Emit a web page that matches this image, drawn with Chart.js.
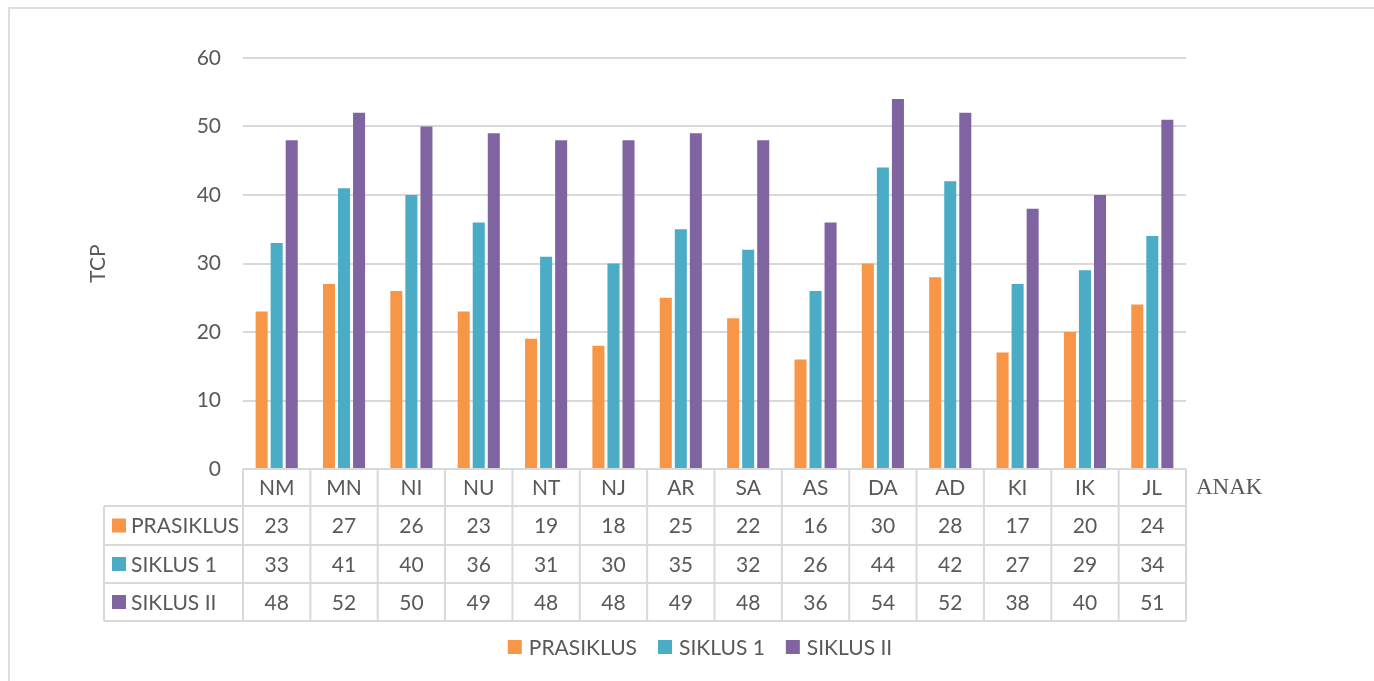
<!DOCTYPE html>
<html>
<head>
<meta charset="utf-8">
<script src="https://cdn.jsdelivr.net/npm/chart.js@4/dist/chart.umd.min.js"></script>
<style>
  html, body { margin: 0; padding: 0; background: #fff; }
  #wrap { width: 1374px; height: 681px; position: relative; }
</style>
</head>
<body>
<div id="wrap"><canvas id="myChart" width="1374" height="681"></canvas></div>
<script>
// data
const categories = ['NM', 'MN', 'NI', 'NU', 'NT', 'NJ', 'AR', 'SA', 'AS', 'DA', 'AD', 'KI', 'IK', 'JL'];
const prasiklus = [23, 27, 26, 23, 19, 18, 25, 22, 16, 30, 28, 17, 20, 24];
const siklus1 = [33, 41, 40, 36, 31, 30, 35, 32, 26, 44, 42, 27, 29, 34];
const siklus2 = [48, 52, 50, 49, 48, 48, 49, 48, 36, 54, 52, 38, 40, 51];
const seriesNames = ['PRASIKLUS', 'SIKLUS 1', 'SIKLUS II'];
const seriesColors = ['#F79646', '#4BACC6', '#8064A2'];
const yTicks = [0, 10, 20, 30, 40, 50, 60];

const txt = '#595959';
const lineCol = '#d9d9d9';
const fontFam = 'Lato, "Open Sans", sans-serif';
const fontSize = 21;

var ctx = document.getElementById('myChart').getContext('2d');

// draws the border, axis titles, data table and legend
var extras = {
    id: 'extras',
    beforeDraw(chart) {
        const c = chart.ctx;
        c.save();
        c.fillStyle = '#fff';
        c.fillRect(0, 0, chart.width, chart.height);
        c.strokeStyle = '#dedede';
        c.lineWidth = 2;
        c.strokeRect(9, 8, chart.width + 20, chart.height + 20);
        c.restore();
    },
    afterDraw(chart) {
        const c = chart.ctx;
        const area = chart.chartArea;
        const xs = chart.scales.x;
        const n = categories.length;
        const step = (area.right - area.left) / n;
        const top = area.bottom;
        const rows = [top, top + 37, top + 76, top + 114, top + 152];
        const tableLeft = 104;
        const values = [prasiklus, siklus1, siklus2];

        c.save();
        c.strokeStyle = lineCol;
        c.lineWidth = 2;
        // horizontal lines
        c.beginPath();
        c.moveTo(area.left, rows[0]); c.lineTo(area.right, rows[0]);
        for (let r = 1; r < rows.length; r++) {
            c.moveTo(tableLeft, rows[r]); c.lineTo(area.right, rows[r]);
        }
        // vertical lines
        for (let i = 0; i <= n; i++) {
            const x = area.left + i * step;
            c.moveTo(x, rows[0]); c.lineTo(x, rows[4]);
        }
        c.moveTo(tableLeft, rows[1]); c.lineTo(tableLeft, rows[4]);
        c.stroke();

        c.fillStyle = txt;
        c.font = fontSize + 'px ' + fontFam;
        c.textAlign = 'center';
        c.textBaseline = 'middle';
        categories.forEach((cat, i) => {
            const x = xs.getPixelForValue(i);
            c.fillText(cat, x, (rows[0] + rows[1]) / 2 + 1);
            values.forEach((vals, s) => {
                c.fillText(String(vals[i]), x, (rows[s + 1] + rows[s + 2]) / 2 + 1);
            });
        });
        // series keys in table
        c.textAlign = 'left';
        seriesNames.forEach((name, s) => {
            const cy = (rows[s + 1] + rows[s + 2]) / 2;
            c.fillStyle = seriesColors[s];
            c.fillRect(112, cy - 7, 14, 14);
            c.fillStyle = txt;
            c.fillText(name, 131, cy + 1);
        });

        // legend
        const legY = 647;
        let widths = seriesNames.map(nm => c.measureText(nm).width);
        const gap = 21, box = 14, boxGap = 7;
        let total = widths.reduce((a, b) => a + b, 0) + seriesNames.length * (box + boxGap) + gap * (seriesNames.length - 1);
        let lx = 700 - total / 2;
        seriesNames.forEach((name, s) => {
            c.fillStyle = seriesColors[s];
            c.fillRect(lx, legY - 7, box, box);
            c.fillStyle = txt;
            c.fillText(name, lx + box + boxGap, legY + 1);
            lx += box + boxGap + widths[s] + gap;
        });

        // axis titles
        c.font = '23px "Liberation Serif", serif';
        c.fillText('ANAK', 1196, rows[0] + 19);
        c.font = fontSize + 'px ' + fontFam;
        c.translate(98, (area.top + area.bottom) / 2);
        c.rotate(-Math.PI / 2);
        c.textAlign = 'center';
        c.fillText('TCP', 0, 0);
        c.restore();
    }
};

var barChart = new Chart(ctx, {
    type: 'bar',
    data: {
        labels: categories,
        datasets: [
            { label: seriesNames[0], data: prasiklus, backgroundColor: seriesColors[0] },
            { label: seriesNames[1], data: siklus1, backgroundColor: seriesColors[1] },
            { label: seriesNames[2], data: siklus2, backgroundColor: seriesColors[2] }
        ]
    },
    options: {
        responsive: false,
        animation: false,
        categoryPercentage: 0.67,
        barPercentage: 0.8,
        layout: { padding: { left: 0, right: 188, top: 58, bottom: 212 } },
        plugins: { legend: { display: false }, tooltip: { enabled: false } },
        scales: {
            x: { display: false },
            y: {
                min: 0,
                max: 60,
                afterBuildTicks: (s) => { s.ticks = yTicks.map(v => ({ value: v })); },
                afterFit: (s) => { s.width = 243; },
                border: { display: false },
                grid: { color: lineCol, lineWidth: 2, drawTicks: false },
                ticks: { color: txt, padding: 22, font: { family: fontFam, size: fontSize } }
            }
        }
    },
    plugins: [extras]
});
</script>
</body>
</html>
